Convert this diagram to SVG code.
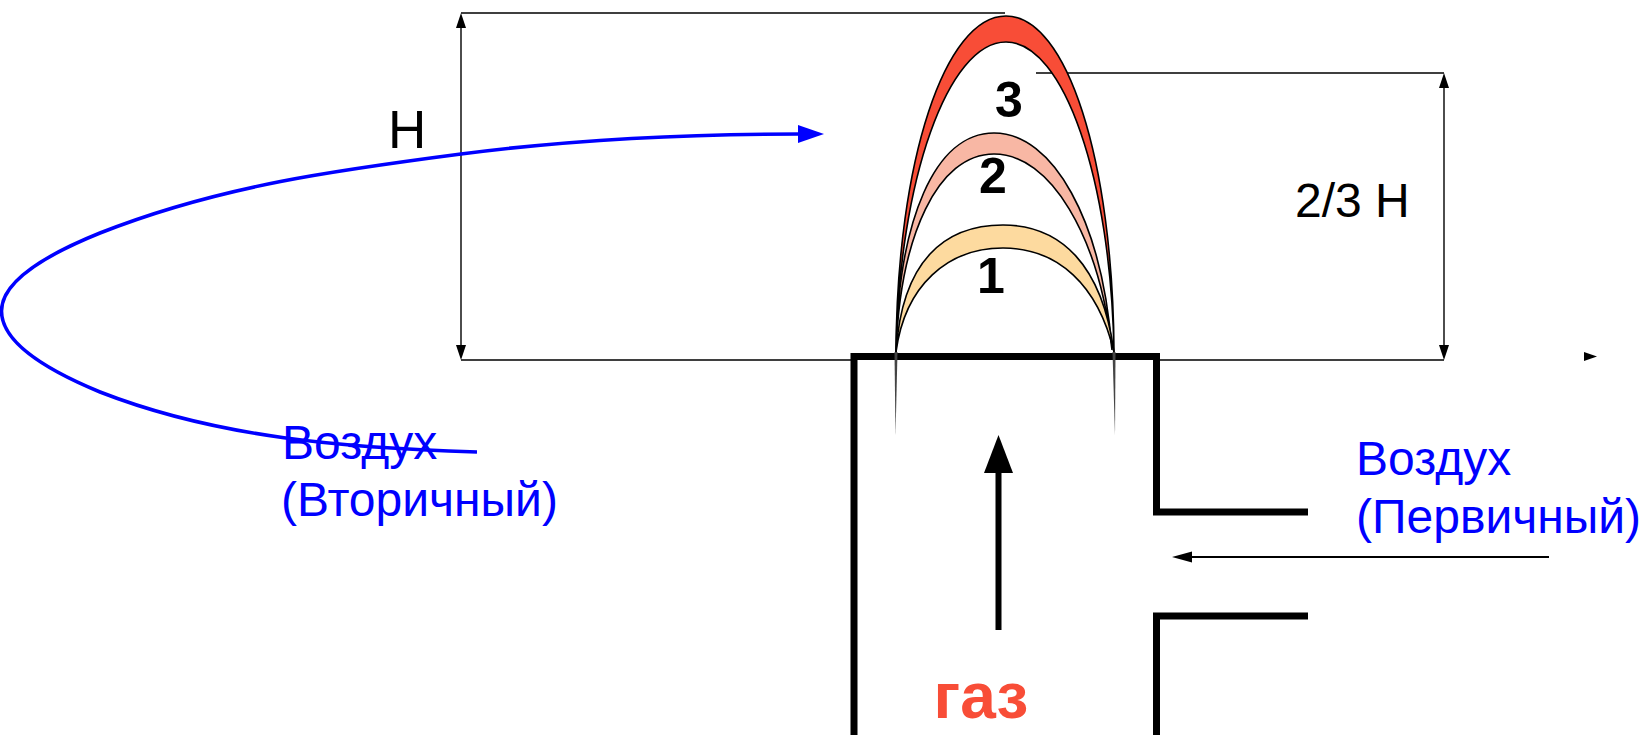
<svg xmlns="http://www.w3.org/2000/svg" width="1643" height="735" viewBox="0 0 1643 735">
  <style>
    .dim { stroke: #000; stroke-width: 1.4; fill: none; }
    .wall { stroke: #000; stroke-width: 7; fill: none; stroke-linejoin: miter; }
    .band { stroke: #000; stroke-width: 1.6; }
    .lbl { font-family: "Liberation Sans", Arial, sans-serif; }
    .blue { fill: #0000FF; font-size: 48px; }
    .num { font-size: 50px; font-weight: bold; fill: #000; text-anchor: middle; }
  </style>
  <rect width="1643" height="735" fill="#fff"/>

  <!-- dimension lines -->
  <g id="connectors">
    <path class="dim" d="M461 13 H1005 M461 360 H851 M1160 360 H1444 M1036 73 H1444"/>
    <path class="dim" d="M461 26 V347"/>
    <polygon points="461,13 456,28 466,28" fill="#000"/>
    <polygon points="461,360 456,345 466,345" fill="#000"/>
    <path class="dim" d="M1444 86 V347"/>
    <polygon points="1444,73 1439,88 1449,88" fill="#000"/>
    <polygon points="1444,360 1439,345 1449,345" fill="#000"/>
    <polygon points="1584,352 1584,361 1597,356.5" fill="#000"/>

    <!-- secondary air stream -->
    <path d="M477 452 C347 448 218 438 100 392 Q1.5 351.5 1.5 311 Q1.5 272.7 100 233 C220 185.4 341 169.6 461 154 C574 139.3 687 134 800 134" fill="none" stroke="#0000FF" stroke-width="3.6"/>
    <polygon points="798,125 824,134 798,143" fill="#0000FF"/>

    <!-- primary air -->
    <line x1="1549" y1="557" x2="1188" y2="557" stroke="#000" stroke-width="2.2"/>
    <polygon points="1172,557 1192,551.5 1192,562.5" fill="#000"/>

    <!-- gas flow -->
    <line x1="998.5" y1="630" x2="998.5" y2="470" stroke="#000" stroke-width="6"/>
    <polygon points="984,473 1013,473 998.5,435" fill="#000"/>
  </g>

  <!-- burner body -->
  <g id="burner">
    <path class="wall" d="M854 735 V356.5 H1156.5 V512 H1308"/>
    <path class="wall" d="M1308 616 H1156.5 V735"/>
  </g>

  <!-- flame cones -->
  <g id="flame3">
    <path class="band" fill="#F84D37" d="M896 352 C897 160 945 16 1006 16 C1067 16 1113 160 1114 352 C1111 180 1064 42 1006 42 C948 42 899 180 896 352 Z"/>
    <text class="lbl num" x="1009" y="117">3</text>
  </g>
  <g id="flame2">
    <path class="band" fill="#F8B7A4" d="M896 352 C898 220 935 133 994 133 C1053 133 1102 220 1112 350 C1099 235 1050 154 994 154 C938 154 900 235 896 352 Z"/>
    <text class="lbl num" x="993" y="193">2</text>
  </g>
  <g id="flame1">
    <path class="band" fill="#FDDA9F" d="M896 352 C902 260 945 225 1003 225 C1061 225 1102 265 1114 352 C1098 285 1058 248 1003 248 C948 248 905 285 896 352 Z"/>
    <text class="lbl num" x="991" y="293">1</text>
  </g>
  <g id="flame-roots" fill="#444">
    <polygon points="894.5,352 897.5,352 895.5,436"/>
    <polygon points="1112.5,352 1115.5,352 1115,436"/>
  </g>

  <!-- labels -->
  <g id="label-H"><text class="lbl" x="388" y="148" font-size="53" fill="#000">H</text></g>
  <g id="label-23H"><text class="lbl" x="1295" y="217" font-size="48" fill="#000">2/3 H</text></g>
  <g id="label-secondary">
    <text class="lbl blue" x="282" y="459">Воздух</text>
    <text class="lbl blue" x="281" y="516">(Вторичный)</text>
  </g>
  <g id="label-primary">
    <text class="lbl blue" x="1356" y="475">Воздух</text>
    <text class="lbl blue" x="1356" y="533">(Первичный)</text>
  </g>
  <g id="label-gas">
    <text class="lbl" x="981" y="718" font-size="64" font-weight="bold" fill="#F84D37" text-anchor="middle">газ</text>
  </g>
</svg>
